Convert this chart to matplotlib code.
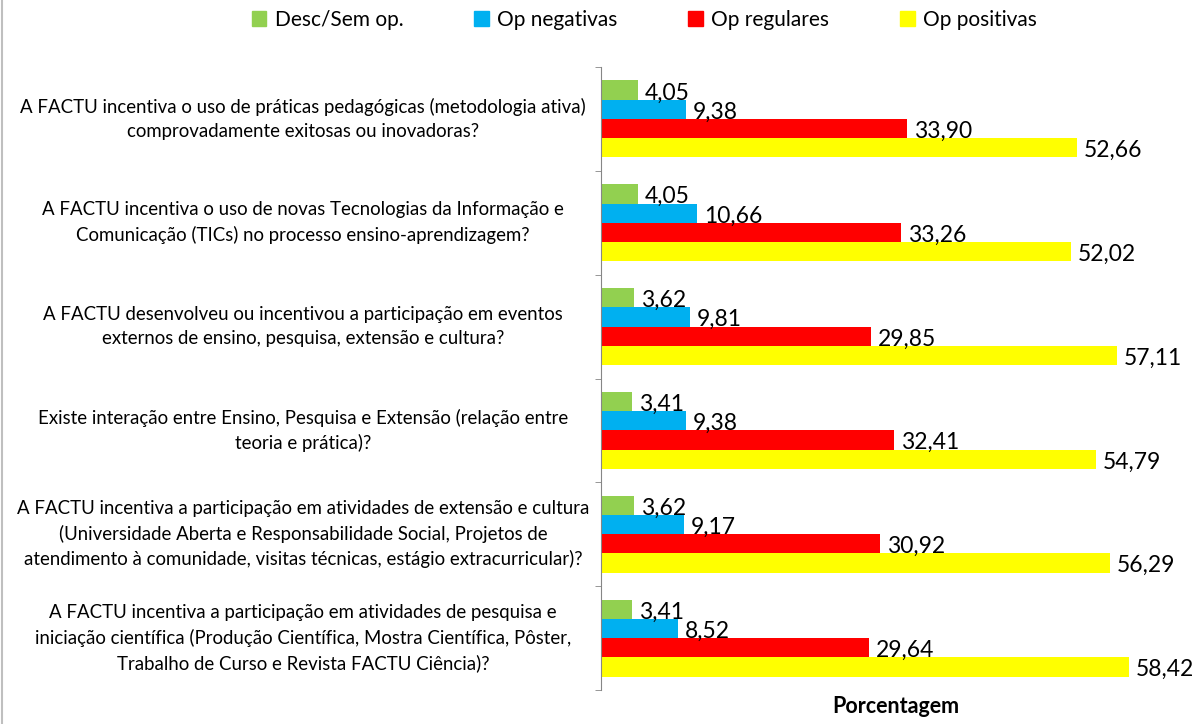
import numpy as np
import matplotlib.pyplot as plt
from matplotlib.transforms import blended_transform_factory
from matplotlib.patches import Patch
from matplotlib.lines import Line2D

plt.rcParams['font.family'] = ['Lato', 'DejaVu Sans']

questions = [
    "A FACTU incentiva o uso de práticas pedagógicas (metodologia ativa)\ncomprovadamente exitosas ou inovadoras?",
    "A FACTU incentiva o uso de novas Tecnologias da Informação e\nComunicação (TICs) no processo ensino-aprendizagem?",
    "A FACTU desenvolveu ou incentivou a participação em eventos\nexternos de ensino, pesquisa, extensão e cultura?",
    "Existe interação entre Ensino, Pesquisa e Extensão (relação entre\nteoria e prática)?",
    "A FACTU incentiva a participação em atividades de extensão e cultura\n(Universidade Aberta e Responsabilidade Social, Projetos de\natendimento à comunidade, visitas técnicas, estágio extracurricular)?",
    "A FACTU incentiva a participação em atividades de pesquisa e\niniciação científica (Produção Científica, Mostra Científica, Pôster,\nTrabalho de Curso e Revista FACTU Ciência)?",
]
series = ["Desc/Sem op.", "Op negativas", "Op regulares", "Op positivas"]
desc = [4.05, 4.05, 3.62, 3.41, 3.62, 3.41]
neg = [9.38, 10.66, 9.81, 9.38, 9.17, 8.52]
reg = [33.90, 33.26, 29.85, 32.41, 30.92, 29.64]
pos = [52.66, 52.02, 57.11, 54.79, 56.29, 58.42]
colors = ["#92D050", "#00B0F0", "#FF0000", "#FFFF00"]

fig = plt.figure(figsize=(12, 7.24), dpi=100)
ax = fig.add_axes([601 / 1200, 1 - 690 / 724, 589 / 1200, 623 / 724])

y = np.arange(len(questions))
h = 0.185
for k, vals in enumerate([desc, neg, reg, pos]):
    yy = y + (k - 1.5) * h
    ax.barh(yy, vals, height=h, color=colors[k], label=series[k])
    for yi, v in zip(yy, vals):
        ax.annotate(f"{v:.2f}".replace(".", ","), (v, yi), xytext=(5, -2),
                    textcoords="offset points", va="center", ha="left",
                    fontsize=16.5, color="black")

ax.set_xlim(0, 65.2)
ax.set_ylim(len(questions) - 0.5, -0.5)
ax.set_xticks([])
ax.set_yticks([])
ax.set_yticks(np.arange(len(questions) + 1) - 0.5, minor=True)
ax.tick_params(axis="y", which="minor", length=4, color="#868686", direction="out")
ax.tick_params(axis="y", which="minor", labelleft=False)
for s in ["top", "right", "bottom"]:
    ax.spines[s].set_visible(False)
ax.spines["left"].set_color("#868686")

tr = blended_transform_factory(fig.transFigure, ax.transData)
for yi, q in zip(y, questions):
    ax.text(303 / 1200, yi, q, transform=tr, ha="center", va="center",
            multialignment="center", fontsize=13.4, linespacing=1.5)

ax.set_xlabel("Porcentagem", fontsize=15.5, fontweight="bold", labelpad=4)

handles = [Patch(color=c) for c in colors]
fig.legend(handles, series, loc="center", bbox_to_anchor=(0.537, 1 - 20 / 724),
           ncol=4, frameon=False, fontsize=15, handlelength=0.7, handleheight=0.7,
           columnspacing=3.4, handletextpad=0.4)

fig.add_artist(Line2D([0.002, 0.002], [0, 1], transform=fig.transFigure,
                      color="#bfbfbf", lw=1.5))

fig.savefig("out.png", dpi=100)
